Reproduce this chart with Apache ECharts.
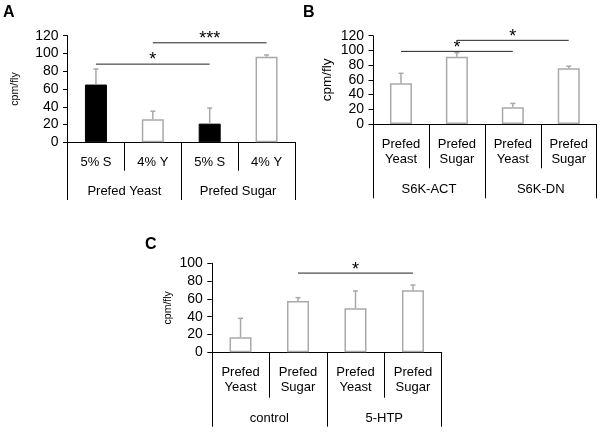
<!DOCTYPE html>
<html><head><meta charset="utf-8">
<script src="https://cdn.jsdelivr.net/npm/echarts@6/dist/echarts.min.js"></script>
<style>html,body{margin:0;padding:0;background:#fff}#c{width:602px;height:432px}</style>
</head><body><div id="c"></div>
<script>
// ---------- Panel A ----------
const catsA = ['5% S', '4% Y', '5% S', '4% Y'];
const groupsA = ['Prefed Yeast', 'Prefed Sugar'];
const valuesA = [65, 26, 21, 96.3];
const errorsA = [17.5, 9, 17.6, 2];
const ticksA = [0, 20, 40, 60, 80, 100, 120];
const sigA = [
  { from: 0, to: 2, y: 88, mark: '*' },
  { from: 1, to: 3, y: 112, mark: '***' }
];
// ---------- Panel B ----------
const catsB = ['Prefed\nYeast', 'Prefed\nSugar', 'Prefed\nYeast', 'Prefed\nSugar'];
const groupsB = ['S6K-ACT', 'S6K-DN'];
const valuesB = [55.3, 91.4, 22.6, 75.6];
const errorsB = [13.6, 5.5, 5.4, 2.9];
const ticksB = [0, 20, 40, 60, 80, 100, 120];
const sigB = [
  { from: 0, to: 2, y: 98.7, mark: '*' },
  { from: 1, to: 3, y: 113.7, mark: '*' }
];
// ---------- Panel C ----------
const catsC = ['Prefed\nYeast', 'Prefed\nSugar', 'Prefed\nYeast', 'Prefed\nSugar'];
const groupsC = ['control', '5-HTP'];
const valuesC = [17, 57.6, 49.4, 69.7];
const errorsC = [21.2, 3.8, 19.5, 5.9];
const ticksC = [0, 20, 40, 60, 80, 100];
const sigC = [
  { from: 1, to: 3, y: 89, mark: '*' }
];
const yName = 'cpm/fly';
const solidCategory = '5% S';

const FONT = "'Liberation Sans', Arial, sans-serif";
const GRAY = '#a9a9a9';
const STAR_SIZE = 18;

const layouts = [
  { grid: { left: 67.5, top: 35.7, width: 227.5, height: 106.6 }, tickLen: 28.4, groupTickLen: 57.7, labelMargin: 13, groupMargin: 43, nameGap: 47, nameSize: 10.5, starLift: 6.5 },
  { grid: { left: 373, top: 35.7, width: 223.7, height: 88.3 }, tickLen: 44.3, groupTickLen: 74.3, labelMargin: 12.5, groupMargin: 59, nameGap: 39, nameSize: 13.5, starLift: 5.5 },
  { grid: { left: 211.8, top: 263.3, width: 229.9, height: 89 }, tickLen: 45.4, groupTickLen: 74.4, labelMargin: 13, groupMargin: 59.5, nameGap: 38, nameSize: 10.5, starLift: 5 }
];
const panels = [
  { cats: catsA, groups: groupsA, values: valuesA, errors: errorsA, ticks: ticksA, sig: sigA },
  { cats: catsB, groups: groupsB, values: valuesB, errors: errorsB, ticks: ticksB, sig: sigB },
  { cats: catsC, groups: groupsC, values: valuesC, errors: errorsC, ticks: ticksC, sig: sigC }
];

const option = {
  animation: false,
  textStyle: { fontFamily: FONT },
  grid: [], xAxis: [], yAxis: [], series: [],
  graphic: [
    { type: 'text', left: 3, top: 5, style: { text: 'A', font: "bold 16px 'Liberation Sans', Arial", fill: '#000' } },
    { type: 'text', left: 303, top: 5, style: { text: 'B', font: "bold 16px 'Liberation Sans', Arial", fill: '#000' } },
    { type: 'text', left: 145, top: 237, style: { text: 'C', font: "bold 16px 'Liberation Sans', Arial", fill: '#000' } }
  ]
};

panels.forEach((p, gi) => {
  const L = layouts[gi];
  option.grid.push(L.grid);
  const xi = option.xAxis.length;
  option.xAxis.push({
    gridIndex: gi, type: 'category', data: p.cats, position: 'bottom', boundaryGap: true,
    axisLine: { lineStyle: { color: '#000', width: 1 } },
    axisTick: { show: true, interval: 0, length: L.tickLen, lineStyle: { color: '#000', width: 1 } },
    axisLabel: { interval: 0, margin: L.labelMargin, fontSize: 13, lineHeight: 15, color: '#000', fontFamily: FONT }
  });
  option.xAxis.push({
    gridIndex: gi, type: 'category', data: p.groups, position: 'bottom', boundaryGap: true,
    axisLine: { show: false },
    axisTick: { show: true, interval: 0, length: L.groupTickLen, lineStyle: { color: '#000', width: 1 } },
    axisLabel: { interval: 0, margin: L.groupMargin, fontSize: 13, color: '#000', fontFamily: FONT }
  });
  const ticks = p.ticks;
  option.yAxis.push({
    gridIndex: gi, type: 'value', min: ticks[0], max: ticks[ticks.length - 1], interval: ticks[1] - ticks[0],
    name: yName, nameLocation: 'middle', nameRotate: 90, nameGap: L.nameGap,
    nameTextStyle: { fontSize: L.nameSize, color: '#000', fontFamily: FONT },
    axisLine: { show: true, lineStyle: { color: '#000', width: 1 } },
    axisTick: { show: true, length: 4.5, lineStyle: { color: '#000' } },
    splitLine: { show: false },
    axisLabel: { margin: 9, fontSize: 14, color: '#000', fontFamily: FONT }
  });
  option.series.push({
    type: 'bar', xAxisIndex: xi, yAxisIndex: gi, barWidth: 22,
    data: p.values.map((v, i) => {
      const solid = p.cats[i] === solidCategory;
      return { value: v, itemStyle: solid ? { color: '#000', borderColor: '#000', borderWidth: 1 } : { color: '#fff', borderColor: GRAY, borderWidth: 1.5 } };
    }),
    z: 2
  });
  option.series.push({
    type: 'custom', xAxisIndex: xi, yAxisIndex: gi, z: 3, clip: false,
    data: p.values.map((v, i) => [i, v, p.errors[i]]),
    encode: { x: 0, y: 1 },
    renderItem: (params, api) => {
      const x = api.value(0), m = api.value(1), e = api.value(2);
      const a = api.coord([x, m]), b = api.coord([x, m + e]);
      const st = { stroke: GRAY, lineWidth: 1.5 };
      return { type: 'group', children: [
        { type: 'line', shape: { x1: a[0], y1: a[1], x2: b[0], y2: b[1] }, style: st },
        { type: 'line', shape: { x1: b[0] - 2.5, y1: b[1], x2: b[0] + 2.5, y2: b[1] }, style: st }
      ] };
    }
  });
  option.series.push({
    type: 'custom', xAxisIndex: xi, yAxisIndex: gi, z: 4, clip: false,
    data: p.sig.map(s => [s.from, s.to, s.y]),
    encode: { x: [0, 1], y: 2 },
    renderItem: (params, api) => {
      const s = p.sig[params.dataIndex];
      const a = api.coord([api.value(0), api.value(2)]);
      const b = api.coord([api.value(1), api.value(2)]);
      return { type: 'group', children: [
        { type: 'line', shape: { x1: a[0], y1: a[1], x2: b[0], y2: b[1] }, style: { stroke: '#222', lineWidth: 1 } },
        { type: 'text', x: (a[0] + b[0]) / 2, y: a[1] + 0.63 * STAR_SIZE - L.starLift,
          style: { text: s.mark, fill: '#000', font: STAR_SIZE + "px 'Liberation Sans', Arial", align: 'center', verticalAlign: 'bottom' } }
      ] };
    }
  });
});

const chart = echarts.init(document.getElementById('c'), null, { renderer: 'canvas' });
chart.setOption(option);
</script>
</body></html>
